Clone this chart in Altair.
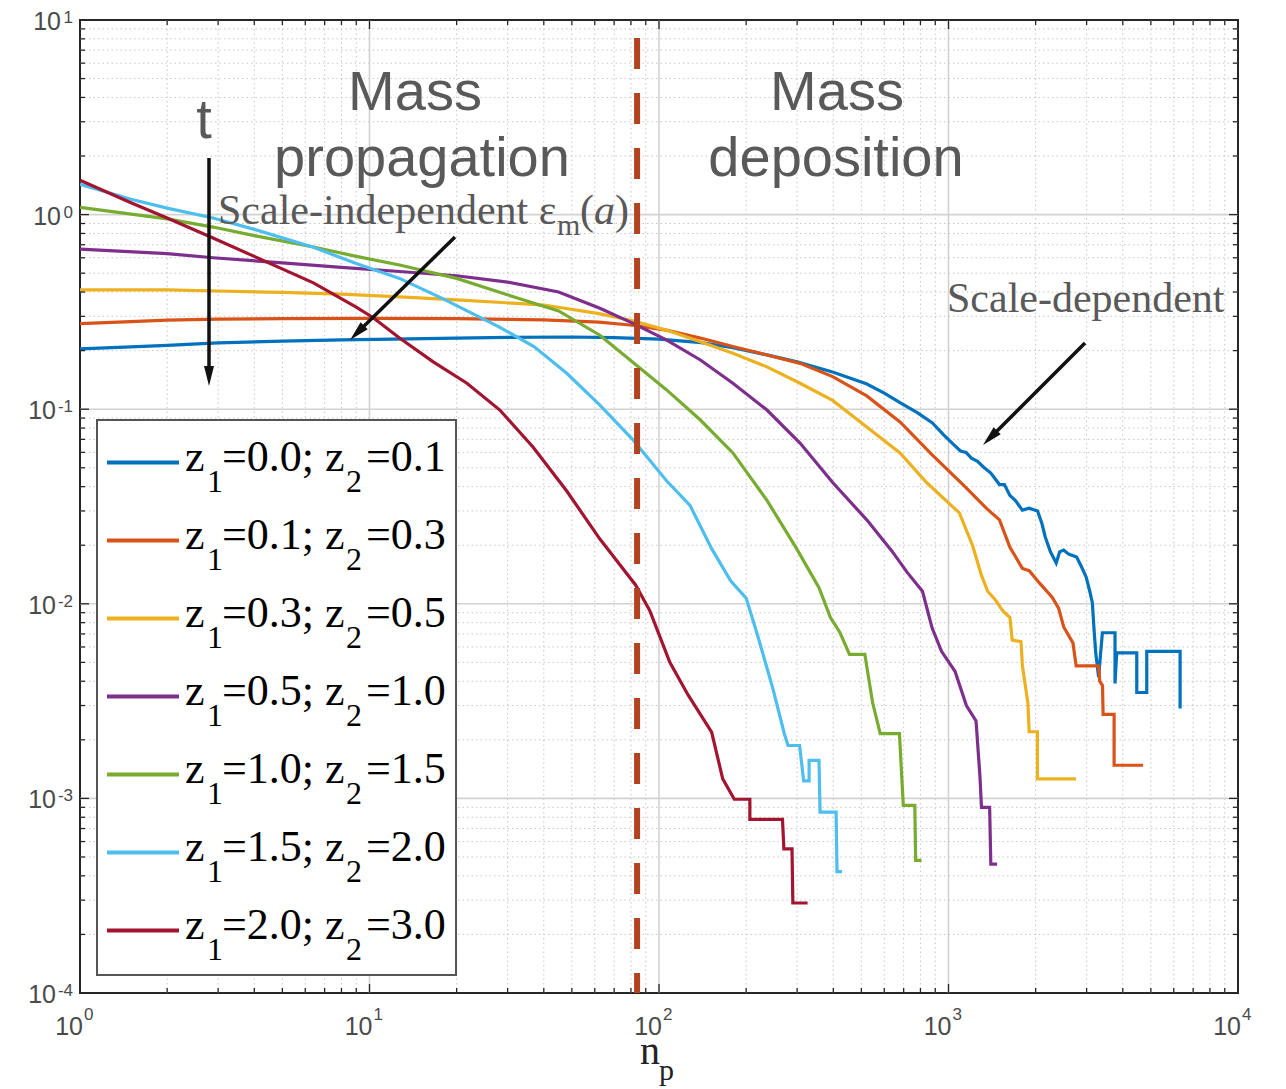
import altair as alt
import pandas as pd

# ---------------- data ----------------
BLUE_X = [1, 1.5, 2, 3, 5, 8, 12, 20, 30, 50, 70, 100, 140, 180, 240, 300, 400, 520, 600, 680,
          780, 880, 960, 1040, 1100, 1150, 1200, 1260, 1320, 1400, 1500, 1560, 1630, 1700, 1800,
          1900, 2030, 2100, 2160, 2250, 2355, 2420, 2500, 2600, 2770, 2880, 2990, 3080, 3140, 3180,
          3225, 3300, 3400, 3760, 3760, 3810, 4470, 4470, 4840, 4840, 6310, 6310]
BLUE_Y = [0.204, 0.209, 0.213, 0.219, 0.224, 0.227, 0.229, 0.232, 0.234, 0.235, 0.233, 0.229, 0.22,
          0.207, 0.189, 0.175, 0.155, 0.135, 0.121, 0.108, 0.096, 0.085, 0.074, 0.066, 0.061, 0.06,
          0.056, 0.054, 0.0505, 0.047, 0.041, 0.041, 0.036, 0.034, 0.0303, 0.031, 0.030, 0.026, 0.022,
          0.0185, 0.0162, 0.0185, 0.0189, 0.018, 0.0174, 0.0155, 0.0137, 0.0115, 0.0101, 0.0075,
          0.0056, 0.0042, 0.0071, 0.0071, 0.0039, 0.0056, 0.0056, 0.0035, 0.0035, 0.0057, 0.0057, 0.0029]

ORANGE_X = [1, 1.5, 2, 3, 5, 10, 20, 40, 62, 81, 106, 139, 180, 236, 307, 398, 522, 680, 880, 1140,
            1350, 1500, 1630, 1800, 1900, 2060, 2280, 2400, 2500, 2690, 2760, 3300, 3330, 3404, 3420,
            3733, 3733, 4700]
ORANGE_Y = [0.275, 0.282, 0.287, 0.29, 0.292, 0.293, 0.292, 0.288, 0.28, 0.27, 0.255, 0.232, 0.21,
            0.19, 0.172, 0.147, 0.117, 0.086, 0.058, 0.040, 0.031, 0.027, 0.0195, 0.0152, 0.0148,
            0.0128, 0.0108, 0.0095, 0.0076, 0.0063, 0.0048, 0.0048, 0.004, 0.0038, 0.0027, 0.0027,
            0.00148, 0.00148]

YELLOW_X = [1, 2, 3, 5, 8, 12.7, 20, 40, 62, 81, 106, 139, 180, 236, 307, 398, 522, 680, 840, 1000,
            1090, 1210, 1300, 1365, 1450, 1541, 1630, 1660, 1780, 1800, 1880, 1900, 2028, 2028, 2755]
YELLOW_Y = [0.41, 0.41, 0.405, 0.398, 0.39, 0.378, 0.365, 0.343, 0.31, 0.285, 0.255, 0.222, 0.194,
            0.165, 0.136, 0.111, 0.081, 0.0596, 0.042, 0.033, 0.0293, 0.020, 0.014, 0.0116, 0.0105,
            0.0092, 0.0085, 0.0065, 0.0064, 0.0048, 0.0031, 0.0022, 0.0022, 0.00126, 0.00126]

PURPLE_X = [1, 2, 2.88, 5, 8, 12.7, 20, 30, 45, 62.5, 81, 106, 139, 180, 236, 307, 398, 522, 637,
            720, 813, 878, 946, 1053, 1153, 1245, 1284, 1300, 1387, 1400, 1472]
PURPLE_Y = [0.665, 0.63, 0.6, 0.565, 0.535, 0.51, 0.485, 0.45, 0.4, 0.33, 0.277, 0.227, 0.179,
            0.136, 0.099, 0.067, 0.042, 0.027, 0.0187, 0.0145, 0.0116, 0.0075, 0.0057, 0.0045, 0.003,
            0.0025, 0.0013, 0.0009, 0.0009, 0.00046, 0.00046]

GREEN_X = [1, 2, 2.88, 4, 6.4, 9, 12.7, 20, 32, 45, 62.5, 81, 106, 139, 180, 236, 297, 357, 391,
           422, 455, 514, 547, 581, 677, 698, 765, 770, 807]
GREEN_Y = [1.09, 0.95, 0.863, 0.78, 0.682, 0.61, 0.551, 0.47, 0.375, 0.32, 0.24, 0.175, 0.126,
           0.088, 0.0596, 0.034, 0.0195, 0.0121, 0.0085, 0.0071, 0.0055, 0.0055, 0.0031, 0.00215,
           0.00215, 0.00092, 0.00092, 0.00048, 0.00048]

CYAN_X = [1, 1.5, 2, 2.88, 4, 6.4, 9, 12.7, 17.9, 28, 37, 48, 62.5, 81, 106, 128, 152, 177, 200,
          219, 247, 271, 279, 306, 316, 330, 330, 357, 360, 409, 412, 429]
CYAN_Y = [1.43, 1.2, 1.08, 0.96, 0.84, 0.68, 0.56, 0.47, 0.37, 0.265, 0.21, 0.153, 0.105, 0.07,
          0.043, 0.032, 0.0192, 0.0131, 0.0107, 0.0069, 0.0037, 0.00215, 0.00187, 0.00187, 0.00123,
          0.00123, 0.00157, 0.00157, 0.00085, 0.00085, 0.00042, 0.00042]

RED_X = [1, 1.5, 2, 2.88, 4, 6.4, 9, 10.3, 12.7, 16.6, 21.7, 28.2, 36.7, 48, 62.5, 83, 93, 109,
         126, 152, 166, 182, 206, 206, 267, 270, 288, 290, 326]
RED_Y = [1.5, 1.15, 0.96, 0.758, 0.61, 0.446, 0.335, 0.295, 0.232, 0.175, 0.136, 0.099, 0.064,
         0.038, 0.0215, 0.0125, 0.0092, 0.005, 0.0034, 0.00219, 0.00126, 0.00099, 0.00099, 0.00078,
         0.00078, 0.00055, 0.00055, 0.00029, 0.00029]

LEG_Z1 = ["0.0", "0.1", "0.3", "0.5", "1.0", "1.5", "2.0"]
LEG_Z2 = ["0.1", "0.3", "0.5", "1.0", "1.5", "2.0", "3.0"]
NP_BOUNDARY = [84]
X_EXPONENTS = [0, 1, 2, 3, 4]
Y_EXPONENTS = [-4, -3, -2, -1, 0, 1]

# ---------------- styles ----------------
COLORS = ["#0072BD", "#D95319", "#EDB120", "#7E2F8E", "#77AC30", "#4DBEEE", "#A2142F"]
SANS = "Liberation Sans, Arial, sans-serif"
SERIF = "Liberation Serif, Times New Roman, serif"
GRAY = "#595959"
LBL = "#4a4a4a"
W, H = 1158, 973

xs = alt.Scale(type="log", domain=[1, 10000])
ys = alt.Scale(type="log", domain=[0.0001, 10])


def X(f):
    return alt.X(f, type="quantitative", scale=xs, axis=None)


def Y(f):
    return alt.Y(f, type="quantitative", scale=ys, axis=None)


ONE = pd.DataFrame({"k": [0]})
layers = []

# ---------------- grid ----------------
x_minor = [k * 10 ** d for d in range(4) for k in range(2, 10)]
y_minor = [k * 10.0 ** d for d in range(-4, 1) for k in range(2, 10)]
x_major = [10 ** e for e in X_EXPONENTS]
y_major = [10.0 ** e for e in Y_EXPONENTS]
x_major_in = x_major[1:-1]
y_major_in = y_major[1:-1]

layers.append(alt.Chart(pd.DataFrame({"v": x_minor})).mark_rule(
    color="#c8c8c8", strokeWidth=1, strokeDash=[1.5, 3]).encode(
    x=X("v"), y=alt.value(0), y2=alt.value(H)))
layers.append(alt.Chart(pd.DataFrame({"v": y_minor})).mark_rule(
    color="#c8c8c8", strokeWidth=1, strokeDash=[1.5, 3]).encode(
    y=Y("v"), x=alt.value(0), x2=alt.value(W)))
layers.append(alt.Chart(pd.DataFrame({"v": x_major_in})).mark_rule(
    color="#d2d2d2", strokeWidth=1.6).encode(x=X("v"), y=alt.value(0), y2=alt.value(H)))
layers.append(alt.Chart(pd.DataFrame({"v": y_major_in})).mark_rule(
    color="#d2d2d2", strokeWidth=1.6).encode(y=Y("v"), x=alt.value(0), x2=alt.value(W)))

# ---------------- series ----------------
SERIES = [(BLUE_X, BLUE_Y), (ORANGE_X, ORANGE_Y), (YELLOW_X, YELLOW_Y), (PURPLE_X, PURPLE_Y),
          (GREEN_X, GREEN_Y), (CYAN_X, CYAN_Y), (RED_X, RED_Y)]
for (sx, sy), col in zip(SERIES, COLORS):
    df = pd.DataFrame({"np": sx, "eps": sy, "i": list(range(len(sx)))})
    layers.append(alt.Chart(df).mark_line(color=col, strokeWidth=3.2, clip=True).encode(
        x=X("np"), y=Y("eps"), order=alt.Order("i:Q")))

# ---------------- boundary ----------------
layers.append(alt.Chart(pd.DataFrame({"v": NP_BOUNDARY})).mark_rule(
    color="#B3421E", strokeWidth=6, strokeDash=[31, 24], strokeDashOffset=37).encode(
    x=X("v"), y=alt.value(0), y2=alt.value(H)))

# ---------------- ticks (inward, on all four sides) ----------------
for vals, L in ((x_minor, 5), (x_major_in, 9)):
    d = pd.DataFrame({"v": vals})
    layers.append(alt.Chart(d).mark_rule(color="#262626", strokeWidth=1.3).encode(
        x=X("v"), y=alt.value(H), y2=alt.value(H - L)))
    layers.append(alt.Chart(d).mark_rule(color="#262626", strokeWidth=1.3).encode(
        x=X("v"), y=alt.value(0), y2=alt.value(L)))
for vals, L in ((y_minor, 5), (y_major_in, 9)):
    d = pd.DataFrame({"v": vals})
    layers.append(alt.Chart(d).mark_rule(color="#262626", strokeWidth=1.3).encode(
        y=Y("v"), x=alt.value(0), x2=alt.value(L)))
    layers.append(alt.Chart(d).mark_rule(color="#262626", strokeWidth=1.3).encode(
        y=Y("v"), x=alt.value(W), x2=alt.value(W - L)))


# ---------------- helpers ----------------
def txt(s, x, y, size, font, color, align="left", style="normal"):
    return alt.Chart(ONE).mark_text(
        text=s, align=align, baseline="alphabetic", fontSize=size, font=font,
        color=color, fontStyle=style).encode(x=alt.value(x), y=alt.value(y))


def seg(x1, y1, x2, y2, width, color):
    return alt.Chart(ONE).mark_rule(color=color, strokeWidth=width).encode(
        x=alt.value(x1), y=alt.value(y1), x2=alt.value(x2), y2=alt.value(y2))


HEAD = "M0,-1L0.5,1L-0.5,1Z"


def head(x, y, ang):
    return alt.Chart(ONE).mark_point(
        shape=HEAD, filled=True, size=400, angle=ang, color="#111111", opacity=1).encode(
        x=alt.value(x), y=alt.value(y))


# ---------------- legend ----------------
layers.append(alt.Chart(ONE).mark_rect(fill="white", stroke="#555555", strokeWidth=2).encode(
    x=alt.value(17), x2=alt.value(376), y=alt.value(400), y2=alt.value(955)))
for i, (z1, z2, col) in enumerate(zip(LEG_Z1, LEG_Z2, COLORS)):
    ly = 442.5 + 78 * i
    layers.append(seg(27, ly, 99, ly, 4, col))
    layers.append(txt("z", 105, ly + 8, 44, SERIF, "#000000"))
    layers.append(txt("1", 127, ly + 29, 32, SERIF, "#000000"))
    layers.append(txt("=" + z1 + "; z", 142, ly + 8, 44, SERIF, "#000000"))
    layers.append(txt("2", 266, ly + 29, 32, SERIF, "#000000"))
    layers.append(txt("=" + z2, 286, ly + 8, 44, SERIF, "#000000"))

# ---------------- annotations ----------------
layers.append(txt("Mass", 335, 90, 56, SANS, GRAY, align="center"))
layers.append(txt("propagation", 342, 156, 56, SANS, GRAY, align="center"))
layers.append(txt("Mass", 757, 90, 56, SANS, GRAY, align="center"))
layers.append(txt("deposition", 756, 156, 56, SANS, GRAY, align="center"))
layers.append(txt("t", 124, 118, 56, SANS, GRAY, align="center"))

layers.append(txt("Scale-independent \u03b5", 138, 204, 42, SERIF, GRAY))
layers.append(txt("m", 477, 215, 30, SERIF, GRAY))
layers.append(txt("(", 500, 204, 42, SERIF, GRAY))
layers.append(txt("a", 514, 204, 42, SERIF, GRAY, style="italic"))
layers.append(txt(")", 535, 204, 42, SERIF, GRAY))
layers.append(txt("Scale-dependent", 867, 292, 42, SERIF, GRAY))

# arrows
layers.append(seg(129, 138, 129, 352, 3.5, "#111111"))
layers.append(head(129, 356, 180))
layers.append(seg(375, 217, 280, 310, 3.5, "#111111"))
layers.append(head(277.1, 312.9, 225))
layers.append(seg(1005, 323, 913, 415, 3.5, "#111111"))
layers.append(head(910.1, 417.9, 225))

# ---------------- tick labels ----------------
xl = pd.DataFrame({"v": x_major, "e": [str(e) for e in X_EXPONENTS]})
layers.append(alt.Chart(xl).mark_text(
    text="10", align="right", baseline="alphabetic", dx=3, fontSize=25, font=SANS, color=LBL).encode(
    x=X("v"), y=alt.value(H + 42)))
layers.append(alt.Chart(xl).mark_text(
    align="left", baseline="alphabetic", dx=4, fontSize=17, font=SANS, color=LBL).encode(
    x=X("v"), y=alt.value(H + 27), text="e:N"))

for group, xten in (([e for e in Y_EXPONENTS if e >= 0], -19), ([e for e in Y_EXPONENTS if e < 0], -24)):
    yl = pd.DataFrame({"v": [10.0 ** e for e in group], "e": [str(e) for e in group]})
    layers.append(alt.Chart(yl).mark_text(
        text="10", align="right", baseline="alphabetic", dy=10, fontSize=25, font=SANS, color=LBL).encode(
        y=Y("v"), x=alt.value(xten)))
    layers.append(alt.Chart(yl).mark_text(
        align="right", baseline="alphabetic", dy=3, fontSize=17, font=SANS, color=LBL).encode(
        y=Y("v"), x=alt.value(-7), text="e:N"))

# axis title n_p
layers.append(txt("n", 570, H + 71, 40, SERIF, "#222222", align="center"))
layers.append(txt("p", 579, H + 87, 30, SERIF, "#222222"))

chart = alt.layer(*layers).properties(
    width=W, height=H,
    padding={"left": 72, "top": 12, "right": 18, "bottom": 98},
    autosize=alt.AutoSizeParams(type="none"),
    background="white",
).configure_view(stroke="#262626", strokeWidth=2)

chart.save("out.html", embed_options={"renderer": "svg", "actions": False})
